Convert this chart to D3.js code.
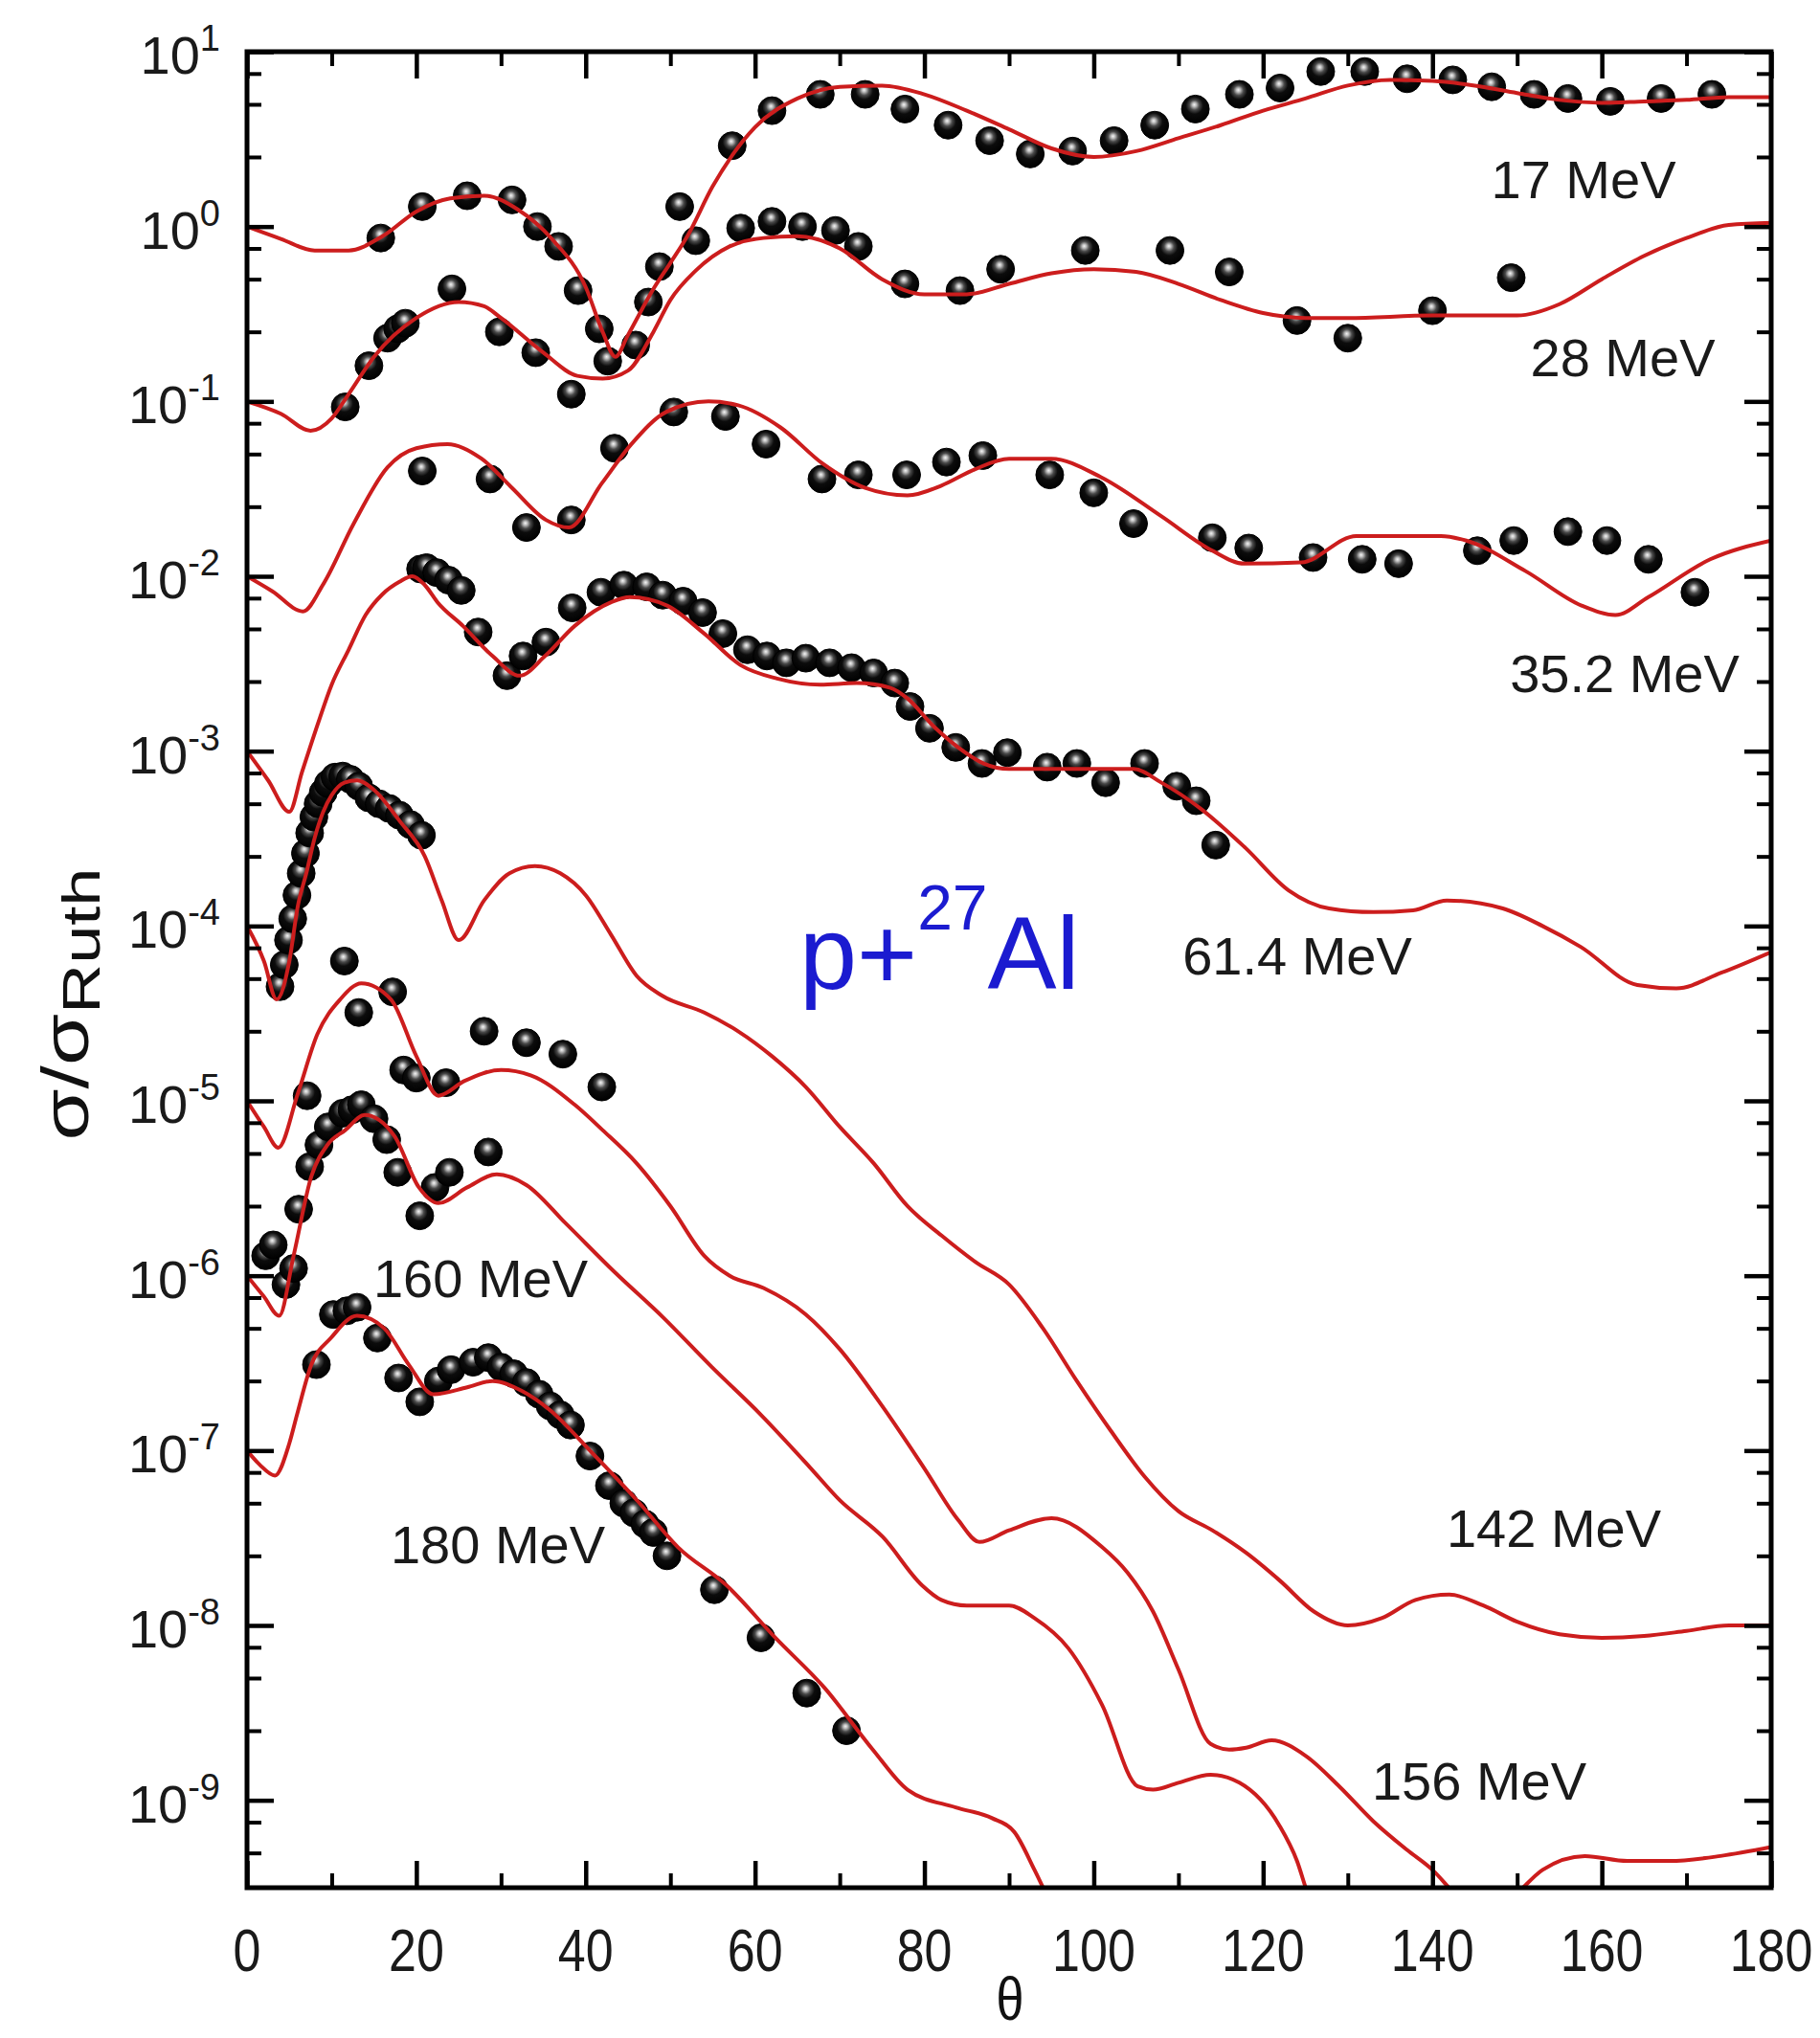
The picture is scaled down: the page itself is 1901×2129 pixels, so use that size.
<!DOCTYPE html>
<html>
<head>
<meta charset="utf-8">
<script src="https://cdn.jsdelivr.net/npm/d3@7"></script>
<style>
  body { margin: 0; background: #fff; }
  text { font-family: "Liberation Sans", Arial, sans-serif; }
</style>
</head>
<body>
<script>
// ---- data: theta (deg) and sigma/sigma_Ruth ----
// calculated curves
const theta17Calc = [0,4,8,12,16,20,24,28,32,36,40,42,43.5,45,48,50,52,55,60,65,70,75,80,85,90,95,100,105,110,115,120,125,130,135,140,145,150,155,160,165,170,175,180];
const sigma17Calc = [1.0,0.85,0.73,0.73,0.88,1.22,1.45,1.5,1.25,0.85,0.45,0.25,0.18,0.24,0.44,0.62,0.88,1.7,3.7,5.4,6.3,6.4,5.7,4.6,3.6,2.8,2.5,2.7,3.2,3.8,4.6,5.4,6.4,6.9,6.8,6.4,5.8,5.3,5.1,5.2,5.3,5.5,5.5];

const theta28Calc = [0,4,7.5,10,12,15,20,25,28,30,35,39,42,45,48,50,53,57,61,65,70,75,80,85,90,95,100,105,110,115,120,125,130,140,150,155,160,165,170,175,180];
const sigma28Calc = [0.1,0.085,0.068,0.08,0.11,0.18,0.30,0.37,0.35,0.30,0.19,0.14,0.135,0.15,0.25,0.38,0.56,0.77,0.86,0.88,0.75,0.5,0.41,0.41,0.47,0.54,0.57,0.55,0.47,0.38,0.32,0.30,0.30,0.31,0.31,0.36,0.5,0.68,0.86,1.02,1.05];

const theta35Calc = [0,3,6.6,9,12.6,16.6,20,23.7,27.7,31.3,35.3,38,41.9,45.4,49.5,54.5,58,63,68,73,78,82,86,90,95,100.8,108,114,117.8,124.5,131,141,144,151,157.6,161.6,165.5,172.8,180];
const sigma35Calc = [0.01,0.0082,0.0063,0.009,0.02,0.042,0.054,0.057,0.047,0.032,0.021,0.019,0.034,0.057,0.087,0.10,0.095,0.071,0.044,0.032,0.029,0.033,0.041,0.047,0.047,0.037,0.022,0.014,0.0118,0.012,0.017,0.017,0.016,0.0107,0.0068,0.006,0.0076,0.0125,0.016];

const theta61Calc = [0,2.5,5,6.5,8.3,10,12,14,16,18,19.5,21,22.5,25.5,29,32.2,35.2,38.7,43,45.2,49.6,54,58.3,62.6,67.7,72,76,78,81,84,87,90,95,100,104.7,108,112.6,117.9,123,127.8,133,137.7,141.7,148.3,153,157.5,164.2,168.8,174.1,180];
const sigma61Calc = [1.0e-3,6.8e-4,4.5e-4,7.6e-4,1.4e-3,2.4e-3,3.8e-3,6.0e-3,7.9e-3,9.3e-3,1.0e-2,8.9e-3,7.1e-3,5.2e-3,3.5e-3,2.7e-3,3.5e-3,5.2e-3,7.1e-3,7.6e-3,6.8e-3,4.7e-3,3.1e-3,2.6e-3,2.4e-3,2.45e-3,2.3e-3,2.0e-3,1.4e-3,1.05e-3,8.5e-4,7.9e-4,7.9e-4,7.9e-4,7.9e-4,6.6e-4,4.7e-4,2.8e-4,1.6e-4,1.26e-4,1.2e-4,1.23e-4,1.4e-4,1.26e-4,1.0e-4,7.6e-5,4.6e-5,4.4e-5,5.4e-5,7.1e-5];

const theta142Calc = [0,2,3.5,5,6,7,8,9,10,11.5,13,15,18,21,23,25,28,31,34,37,40,43,46,49,54,58,62,66,70,74,78,82,86,90,94,98,102,106,110,114,118,122,126,130,134,138,142,146,150,155,160,165,170,175,180];
const sigma142Calc = [1.0e-4,6.3e-5,3.8e-5,6.3e-5,1.3e-4,2.0e-4,3.2e-4,4.5e-4,5.6e-4,6.6e-4,6.8e-4,6.0e-4,4.0e-4,2.5e-4,1.4e-4,8.3e-5,1.4e-4,2.0e-4,2.2e-4,2.0e-4,1.5e-4,8.9e-5,5.2e-5,4.0e-5,3.2e-5,2.5e-5,1.8e-5,1.2e-5,7.1e-6,4.4e-6,2.5e-6,1.7e-6,1.2e-6,8.9e-7,5.0e-7,2.5e-7,1.3e-7,7.1e-8,4.5e-8,3.5e-8,2.6e-8,1.8e-8,1.2e-8,1.0e-8,1.1e-8,1.4e-8,1.5e-8,1.3e-8,1.05e-8,8.9e-9,8.5e-9,8.7e-9,9.3e-9,1.0e-8,1.0e-8];

const theta156Calc = [0,2,3.7,6,8.3,11,13.5,17,20,22.6,25.7,30,33.5,38.7,42,46,50,54,57,61,66,70,75,80,84,86.5,90,95,101,104,107,110,113.8,116,118,121,125,129,133,137,140,143,146,149.5,153,158,163,168,174,180];
const sigma156Calc = [1.0e-5,7.1e-6,5.4e-6,1.1e-5,2.4e-5,3.8e-5,4.7e-5,3.8e-5,1.8e-5,1.07e-5,1.3e-5,1.5e-5,1.4e-5,9.5e-6,6.8e-6,4.4e-6,2.5e-6,1.3e-6,1.0e-6,8.5e-7,6.0e-7,3.8e-7,1.8e-7,7.9e-8,4.0e-8,3.0e-8,3.5e-8,4.1e-8,2.8e-8,2.0e-8,1.2e-8,5.6e-9,2.1e-9,1.95e-9,2.0e-9,2.2e-9,1.8e-9,1.2e-9,7.6e-10,5.2e-10,4.0e-10,2.8e-10,2.2e-10,2.8e-10,4.0e-10,4.8e-10,4.5e-10,4.5e-10,4.8e-10,5.4e-10];

const theta160Calc = [0,2,3.8,5.5,7.6,9.5,11.6,13.9,17.4,20.3,22.6,26,29.5,33,37.6,43.4,49.1,54.9,60.7,66.4,70,75.1,79.7,82,85,88,90,93,97,101,105.2,107,110,113.8,117.2,121.9,124,125.3,127];
const sigma160Calc = [1.0e-6,7.6e-7,5.9e-7,1.3e-6,3.7e-6,5.6e-6,6.8e-6,8.3e-6,6.3e-6,3.2e-6,2.6e-6,3.2e-6,3.8e-6,3.3e-6,2.0e-6,1.05e-6,5.8e-7,3.0e-7,1.6e-7,8.1e-8,5.2e-8,3.2e-8,1.7e-8,1.4e-8,1.3e-8,1.3e-8,1.3e-8,1.1e-8,7.4e-9,3.5e-9,1.2e-9,1.15e-9,1.26e-9,1.4e-9,1.26e-9,7.2e-10,4.5e-10,2.9e-10,2.0e-10];

const theta180Calc = [0,1.5,3.3,5,5.9,7.6,9.9,13,16.2,19.1,22,26,29,32.4,35.8,40.5,46.2,50.9,56.6,62.4,68.2,73.9,78,83.7,88,90.6,93,95];
const sigma180Calc = [1.0e-7,8.3e-8,7.2e-8,1.1e-7,1.6e-7,3.1e-7,4.4e-7,5.9e-7,5.0e-7,3.1e-7,2.1e-7,2.3e-7,2.5e-7,2.2e-7,1.7e-7,1.0e-7,5.1e-8,2.8e-8,1.7e-8,8.5e-9,4.4e-9,1.95e-9,1.15e-9,9.1e-10,7.9e-10,6.6e-10,4.0e-10,2.5e-10];

// measured points
const theta17Exp = [15.8,20.7,26.0,31.3,34.3,36.8,39.1,41.6,42.6,51.1,57.3,62.0,67.7,73.0,77.7,82.8,87.7,92.5,97.5,102.4,107.2,112.0,117.2,122.0,126.8,132.0,137.0,142.4,147.0,152.0,156.0,161.0,167.0,173.0];
const sigma17Exp = [0.86,1.30,1.50,1.42,1.00,0.77,0.43,0.26,0.17,1.3,2.9,4.6,5.7,5.7,4.7,3.8,3.1,2.6,2.7,3.1,3.8,4.7,5.7,6.2,7.7,7.7,7.0,6.9,6.3,5.7,5.4,5.2,5.4,5.7];

const theta28Exp = [11.6,14.4,16.6,17.8,18.7,24.2,29.8,34.1,38.3,45.9,47.4,48.7,53.0,58.3,62.0,65.6,69.5,72.2,77.7,84.2,89.0,99.0,109.0,116.0,124.0,130.0,140.0,149.3];
const sigma28Exp = [0.093,0.16,0.23,0.26,0.28,0.44,0.25,0.19,0.11,0.21,0.37,0.59,0.83,0.98,1.07,1.0,0.95,0.77,0.47,0.43,0.57,0.73,0.73,0.55,0.29,0.23,0.33,0.51];

const theta35Exp = [20.7,28.7,33.0,38.3,43.4,50.4,56.5,61.3,67.9,72.2,77.9,82.6,86.9,94.8,100.0,104.7,114.0,118.3,125.9,131.7,136.0,145.3,149.6,156.0,160.6,165.5,171.0];
const sigma35Exp = [0.04,0.036,0.019,0.021,0.054,0.087,0.082,0.057,0.036,0.038,0.038,0.045,0.049,0.038,0.030,0.020,0.0166,0.0145,0.0128,0.0125,0.0118,0.014,0.016,0.018,0.016,0.0125,0.0081];

const theta61Exp = [20.5,21.2,22.4,23.8,25.3,27.3,30.7,32.6,35.3,38.4,41.8,44.5,47.2,49.1,51.5,53.8,56.2,59.1,61.4,63.7,66.0,68.8,71.4,74.0,76.5,78.3,80.6,83.7,86.8,89.8,94.5,98.0,101.4,106.0,109.8,112.1,114.4];
const sigma61Exp = [1.1e-2,1.12e-2,1.05e-2,9.5e-3,8.3e-3,4.8e-3,2.7e-3,3.5e-3,4.2e-3,6.6e-3,8.1e-3,8.9e-3,8.7e-3,7.8e-3,7.2e-3,6.2e-3,4.7e-3,3.8e-3,3.5e-3,3.2e-3,3.4e-3,3.2e-3,3.0e-3,2.8e-3,2.45e-3,1.8e-3,1.35e-3,1.05e-3,8.5e-4,9.8e-4,8.1e-4,8.5e-4,6.6e-4,8.5e-4,6.3e-4,5.2e-4,2.9e-4];

const theta142Exp = [3.9,4.4,4.9,5.4,5.9,6.4,6.9,7.4,7.9,8.4,9.0,9.6,10.4,11.3,12.2,13.2,14.4,15.6,16.8,18.0,19.3,20.6];
const sigma142Exp = [4.5e-5,6.0e-5,8.3e-5,1.1e-4,1.5e-4,2.0e-4,2.6e-4,3.4e-4,4.2e-4,5.0e-4,5.8e-4,6.5e-4,7.1e-4,7.2e-4,6.9e-4,6.3e-4,5.4e-4,5.0e-4,4.7e-4,4.3e-4,3.8e-4,3.3e-4];

const theta156Exp = [7.1,11.5,13.2,17.2,18.5,20.0,23.5,28.0,33.0,37.3,41.9];
const sigma156Exp = [1.07e-5,6.3e-5,3.2e-5,4.2e-5,1.5e-5,1.35e-5,1.27e-5,2.5e-5,2.15e-5,1.85e-5,1.2e-5];

const theta160Exp = [2.2,3.1,4.6,5.5,6.1,7.4,8.5,9.6,11.3,12.4,13.5,15.0,16.5,17.8,20.4,22.2,23.9,28.5];
const sigma160Exp = [1.3e-6,1.5e-6,8.9e-7,1.1e-6,2.4e-6,4.2e-6,5.6e-6,7.1e-6,8.5e-6,8.9e-6,9.5e-6,7.9e-6,6.0e-6,3.9e-6,2.2e-6,3.2e-6,3.9e-6,5.1e-6];

const theta180Exp = [8.2,10.2,11.8,13.0,15.4,17.9,20.4,22.6,24.1,26.7,28.5,30,31.5,33,34.5,35.8,37,38.2,40.5,42.8,44.5,45.7,47,48,49.6,55.2,60.7,66.1,70.8];
const sigma180Exp = [3.1e-7,6.0e-7,6.3e-7,6.6e-7,4.4e-7,2.6e-7,1.9e-7,2.5e-7,2.9e-7,3.2e-7,3.4e-7,3.0e-7,2.75e-7,2.45e-7,2.1e-7,1.8e-7,1.6e-7,1.4e-7,9.3e-8,6.3e-8,5.0e-8,4.4e-8,3.8e-8,3.4e-8,2.5e-8,1.6e-8,8.5e-9,4.1e-9,2.5e-9];

const energyLabels = ["17 MeV","28 MeV","35.2 MeV","61.4 MeV","142 MeV","156 MeV","160 MeV","180 MeV"];
const xTickLabels = [0,20,40,60,80,100,120,140,160,180];
const yTickExponents = [1,0,-1,-2,-3,-4,-5,-6,-7,-8,-9];

// ---- layout ----
const width = 1901, height = 2129;
const plotLeft = 258, plotRight = 1850, plotTop = 54, plotBottom = 1972;
// label anchor positions (pixels) in the same order as energyLabels
const labelPos = [[1654,187],[1695,373],[1697,703],[1355,998],[1623,1596],[1545,1860],[502,1335],[520,1613]];

const zip = (a, b) => a.map((t, i) => [t, b[i]]);
const series = [
    {calc: zip(theta17Calc, sigma17Calc), exp: zip(theta17Exp, sigma17Exp)},
    {calc: zip(theta28Calc, sigma28Calc), exp: zip(theta28Exp, sigma28Exp)},
    {calc: zip(theta35Calc, sigma35Calc), exp: zip(theta35Exp, sigma35Exp)},
    {calc: zip(theta61Calc, sigma61Calc), exp: zip(theta61Exp, sigma61Exp)},
    {calc: zip(theta142Calc, sigma142Calc), exp: zip(theta142Exp, sigma142Exp)},
    {calc: zip(theta156Calc, sigma156Calc), exp: zip(theta156Exp, sigma156Exp)},
    {calc: zip(theta160Calc, sigma160Calc), exp: zip(theta160Exp, sigma160Exp)},
    {calc: zip(theta180Calc, sigma180Calc), exp: zip(theta180Exp, sigma180Exp)}
];

const xScale = d3.scaleLinear().domain([0, 180]).range([plotLeft, plotRight]);
const yScale = d3.scaleLog().domain([Math.pow(10, -9.5), 10]).range([plotBottom, plotTop]);

const svg = d3.select('body').append('svg')
    .attr('width', width).attr('height', height)
    .style('background-color', '#ffffff');

const defs = svg.append('defs');
defs.append('clipPath').attr('id', 'plotclip').append('rect')
    .attr('x', plotLeft).attr('y', plotTop)
    .attr('width', plotRight - plotLeft).attr('height', plotBottom - plotTop);

// black sphere with a small pale highlight
const grad = defs.append('radialGradient').attr('id', 'ball')
    .attr('cx', '48%').attr('cy', '40%').attr('r', '60%').attr('fx', '46%').attr('fy', '34%');
[[0, '#f4f4f4'], [0.12, '#bdbdbd'], [0.3, '#4a4a4a'], [0.52, '#0c0c0c'], [1, '#000000']]
    .forEach(s => grad.append('stop').attr('offset', s[0]).attr('stop-color', s[1]));

const plot = svg.append('g').attr('clip-path', 'url(#plotclip)');

// measured points first, calculated curves drawn over them
series.forEach(s => {
    plot.append('g').selectAll('circle').data(s.exp).enter().append('circle')
        .attr('cx', d => xScale(d[0]))
        .attr('cy', d => yScale(d[1]))
        .attr('r', 14.5)
        .attr('fill', 'url(#ball)')
        .attr('stroke', '#000').attr('stroke-width', 1);
});

const line = d3.line()
    .x(d => xScale(d[0]))
    .y(d => yScale(d[1]))
    .curve(d3.curveMonotoneX);

series.forEach(s => {
    plot.append('path').datum(s.calc)
        .attr('d', line)
        .attr('fill', 'none')
        .attr('stroke', '#cc1d1d')
        .attr('stroke-width', 4)
        .attr('stroke-linejoin', 'round');
});

// ---- axes: ticks on all four sides, pointing in ----
const xMajor = d3.range(0, 181, 20);
const xMinor = d3.range(10, 180, 20);
const yMajor = yTickExponents.map(e => Math.pow(10, e));
const yMinor = [];
d3.range(-10, 1).forEach(e => [2.5, 5, 7.5].forEach(m => {
    const v = m * Math.pow(10, e);
    if (v > Math.pow(10, -9.5) && v < 10) yMinor.push(v);
}));

function ticks(axis, values, size, transform) {
    const g = svg.append('g').attr('transform', transform)
        .call(axis.tickValues(values).tickSize(-size).tickFormat(''));
    g.select('.domain').remove();
    g.selectAll('line').attr('stroke', '#000').attr('stroke-width', size > 20 ? 4.5 : 4);
    return g;
}
ticks(d3.axisBottom(xScale), xMajor, 28, `translate(0,${plotBottom})`);
ticks(d3.axisBottom(xScale), xMinor, 15, `translate(0,${plotBottom})`);
ticks(d3.axisTop(xScale), xMajor, 28, `translate(0,${plotTop})`);
ticks(d3.axisTop(xScale), xMinor, 15, `translate(0,${plotTop})`);
ticks(d3.axisLeft(yScale), yMajor, 28, `translate(${plotLeft},0)`);
ticks(d3.axisLeft(yScale), yMinor, 15, `translate(${plotLeft},0)`);
ticks(d3.axisRight(yScale), yMajor, 28, `translate(${plotRight},0)`);
ticks(d3.axisRight(yScale), yMinor, 15, `translate(${plotRight},0)`);

svg.append('rect')
    .attr('x', plotLeft).attr('y', plotTop)
    .attr('width', plotRight - plotLeft).attr('height', plotBottom - plotTop)
    .attr('fill', 'none').attr('stroke', '#000').attr('stroke-width', 5);

// x tick labels
svg.selectAll('.xlab').data(xTickLabels).enter().append('text')
    .attr('class', 'xlab')
    .attr('transform', d => `translate(${xScale(d)},2059) scale(1,1.2)`)
    .attr('text-anchor', 'middle')
    .attr('font-size', 52)
    .attr('fill', '#1a1a1a')
    .text(d => d);

// y tick labels 10^n
svg.selectAll('.ylab').data(yTickExponents).enter().append('text')
    .attr('class', 'ylab')
    .attr('x', 230)
    .attr('y', d => yScale(Math.pow(10, d)) + 23)
    .attr('text-anchor', 'end')
    .attr('font-size', 56)
    .attr('fill', '#1a1a1a')
    .each(function(d) {
        const t = d3.select(this);
        t.append('tspan').text('10');
        t.append('tspan').attr('dy', -24).attr('font-size', 38).text(d);
    });

// axis titles
const yTitle = svg.append('text')
    .attr('transform', 'translate(92,1049) rotate(-90)')
    .attr('text-anchor', 'middle')
    .attr('font-size', 68)
    .attr('textLength', 285)
    .attr('lengthAdjust', 'spacingAndGlyphs')
    .attr('fill', '#111');
yTitle.append('tspan').text('σ/σ');
yTitle.append('tspan').attr('dy', 12).attr('font-size', 56).text('Ruth');

svg.append('text')
    .attr('transform', 'translate(1055,2110) scale(1,1.2)')
    .attr('text-anchor', 'middle')
    .attr('font-size', 52)
    .attr('fill', '#111')
    .text('θ');

// energy labels
svg.selectAll('.elab').data(energyLabels).enter().append('text')
    .attr('class', 'elab')
    .attr('x', (d, i) => labelPos[i][0])
    .attr('y', (d, i) => labelPos[i][1] + 20)
    .attr('text-anchor', 'middle')
    .attr('font-size', 56)
    .attr('fill', '#1a1a1a')
    .text(d => d);

// reaction label
const reac = svg.append('text')
    .attr('x', 835).attr('y', 1033)
    .attr('font-size', 108)
    .attr('fill', '#1b1bd0');
reac.append('tspan').text('p+');
reac.append('tspan').attr('dy', -62).attr('font-size', 66).text('27');
reac.append('tspan').attr('dy', 62).text('Al');
</script>
</body>
</html>
